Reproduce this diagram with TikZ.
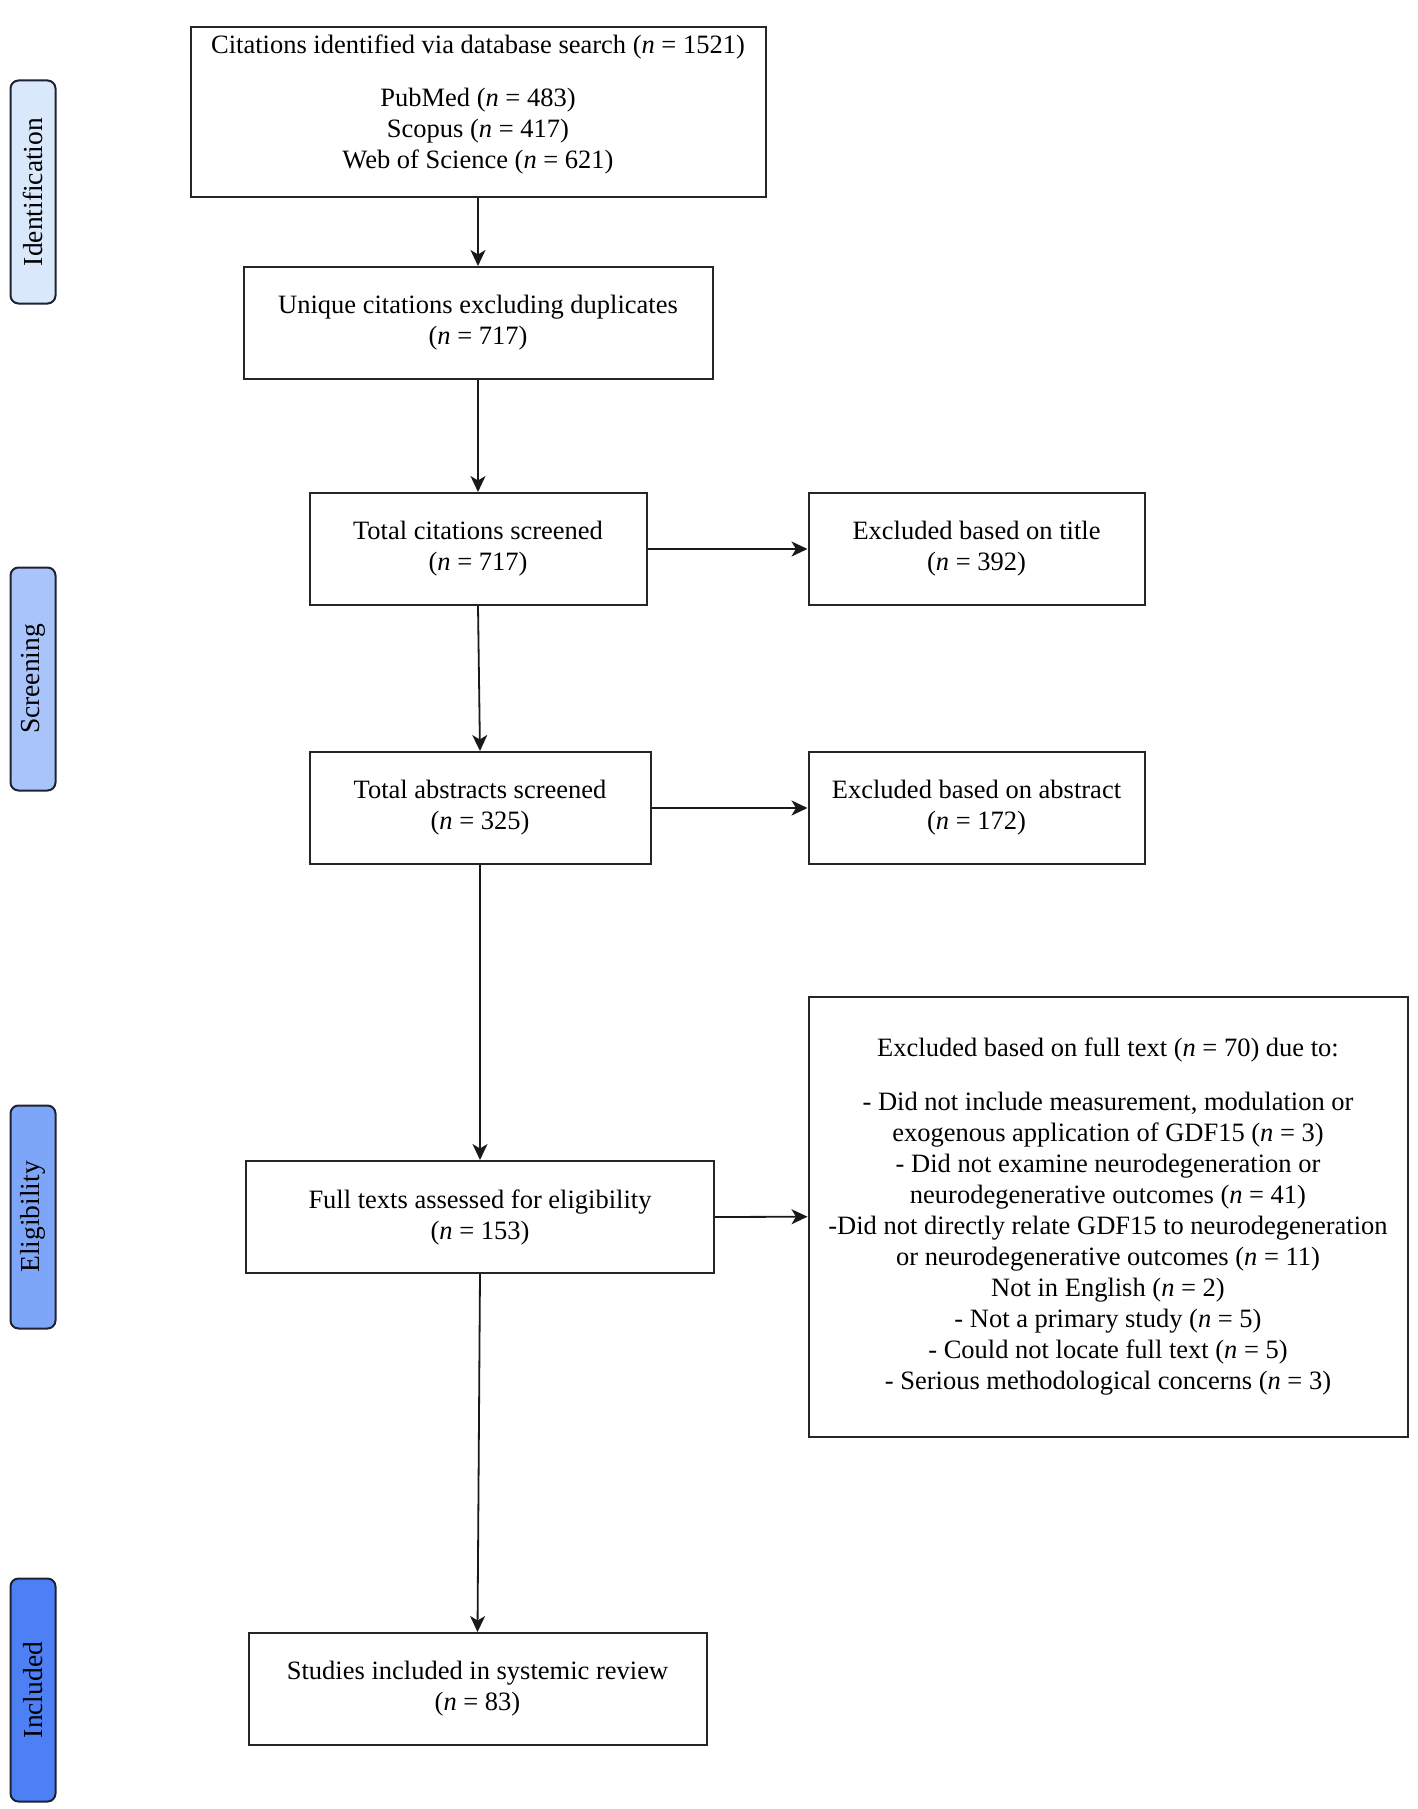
\documentclass[tikz,border=0pt]{standalone}
\usepackage{fontspec}
\setmainfont{Liberation Serif}
\usetikzlibrary{arrows.meta}
\newcommand{\nn}{\textit{n}}
\definecolor{cid}{HTML}{DAE8FC}
\definecolor{csc}{HTML}{A9C4FB}
\definecolor{cel}{HTML}{7EA6F8}
\definecolor{cin}{HTML}{4D7FF5}
\definecolor{cedge}{HTML}{1E2233}
\begin{document}
\begin{tikzpicture}[x=1pt,y=-1pt,
  box/.style={draw=black!85, line width=2pt, fill=white, inner sep=0pt, align=center,
    font=\fontsize{26.5}{31}\selectfont},
  txt/.style={inner sep=0pt, align=center, font=\fontsize{26.5}{31}\selectfont},
  phase/.style={draw=cedge, line width=2pt, rounded corners=8pt, minimum width=45pt,
    minimum height=223pt, inner sep=0pt},
  phasetxt/.style={rotate=90, inner sep=0pt, font=\fontsize{27.5}{32}\selectfont},
  arr/.style={line width=1.8pt, draw=black!90, -{Stealth[length=16pt,width=15pt,inset=4.5pt]}}]
\useasboundingbox[fill=white] (0,0) rectangle (1417,1809);

% phase labels
\node[phase, fill=cid] (pid) at (33,192) {};
\node[phasetxt] (tid) at (pid.center) {Identification};
\node[phase, fill=csc] (psc) at (33,679) {};
\node[phasetxt] (tsc) at (psc.center) {Screening};
\node[phase, fill=cel] (pel) at (33,1217) {};
\node[phasetxt] (tel) at (pel.center) {Eligibility};
\node[phase, fill=cin] (pin) at (33,1690) {};
\node[phasetxt] (tin) at (pin.center) {Included};

% main boxes
\node[box, minimum width=575pt, minimum height=169pt] (b1) at (478,112) {};
\node[txt] (t1) at (478,104) {Citations identified via database search (\nn{} = 1521)\\[22pt]
  PubMed (\nn{} = 483)\\ Scopus (\nn{} = 417)\\ Web of Science (\nn{} = 621)};
\node[box, minimum width=469pt, minimum height=112pt] (b2) at (478,323)
  {Unique citations excluding duplicates\\(\nn{} = 717)};
\node[box, minimum width=337pt, minimum height=112pt] (b3) at (478,549)
  {Total citations screened\\(\nn{} = 717)};
\node[box, minimum width=336pt, minimum height=112pt] (e1) at (976.5,549)
  {Excluded based on title\\(\nn{} = 392)};
\node[box, minimum width=341pt, minimum height=112pt] (b4) at (480,808)
  {Total abstracts screened\\(\nn{} = 325)};
\node[box, minimum width=336pt, minimum height=112pt] (e2) at (976.5,808)
  {Excluded based on abstract\\(\nn{} = 172)};
\node[box, minimum width=468pt, minimum height=112pt] (b5) at (480,1217)
  {Full texts assessed for eligibility\\(\nn{} = 153)};
\node[box, minimum width=599pt, minimum height=440pt] (e3) at (1108,1216.7)
  {Excluded based on full text (\nn{} = 70) due to:\\[23pt]
   - Did not include measurement, modulation or\\
   exogenous application of GDF15 (\nn{} = 3)\\
   - Did not examine neurodegeneration or\\
   neurodegenerative outcomes (\nn{} = 41)\\
   -Did not directly relate GDF15 to neurodegeneration\\
   or neurodegenerative outcomes (\nn{} = 11)\\
   Not in English (\nn{} = 2)\\
   - Not a primary study (\nn{} = 5)\\
   - Could not locate full text (\nn{} = 5)\\
   - Serious methodological concerns (\nn{} = 3)};
\node[box, minimum width=458pt, minimum height=112pt] (b6) at (477.5,1689)
  {Studies included in systemic review\\(\nn{} = 83)};

% connectors
\draw[arr] (b1.south) -- (b2.north);
\draw[arr] (b2.south) -- (b3.north);
\draw[arr] (b3.south) -- (b4.north);
\draw[arr] (b4.south) -- (b5.north);
\draw[arr] (b5.south) -- (b6.north);
\draw[arr] (b3.east) -- (e1.west);
\draw[arr] (b4.east) -- (e2.west);
\draw[arr] (b5.east) -- (e3.west);
\end{tikzpicture}
\end{document}
